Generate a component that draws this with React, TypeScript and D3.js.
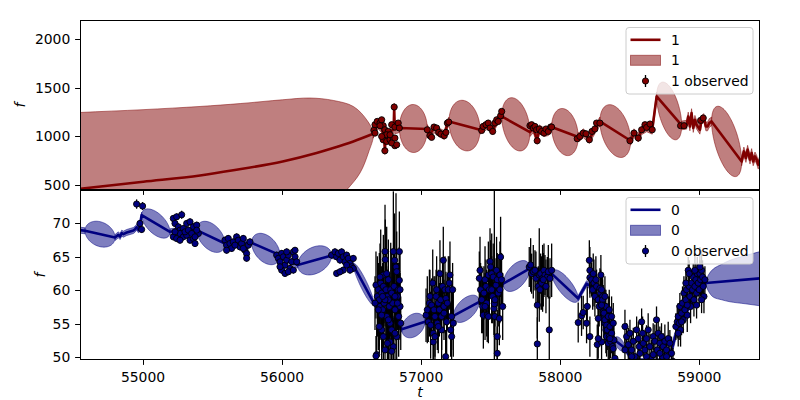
import React from 'react';
import * as d3 from 'd3';

// ---------- axes ----------
const tDomain = [54547, 59436];
const xTicks = [55000, 56000, 57000, 58000, 59000];
const topDomain = [445, 2195];
const topTicks = [500, 1000, 1500, 2000];
const botDomain = [49.6, 75];
const botTicks = [50, 55, 60, 65, 70];

// ---------- series "1" (top) ----------
const topMeanT = [54549, 55002, 55410, 55649, 56004, 56248, 56368, 56512, 56656,
  56668, 56690, 56716, 56733, 56739, 56745, 56770, 56790, 56802, 56806, 56810, 56830, 56843,
  57044, 57063, 57092, 57126, 57166, 57188, 57200,
  57423, 57446, 57482, 57514, 57543, 57579,
  57782, 57806, 57834, 57849, 57883, 57914, 57938,
  58129, 58141, 58165, 58209, 58249, 58285,
  58506, 58530, 58561, 58585, 58621, 58661, 58693,
  58873, 58909, 58920, 58932, 58944, 58956, 58968, 58980, 59004, 59016, 59033, 59047, 59059, 59071, 59088,
  59304, 59320, 59335, 59347, 59364, 59376, 59387, 59400, 59412, 59423, 59436];
const topMeanF = [458, 530, 595, 648, 739, 826, 877, 945, 1024,
  1075, 1120, 1080, 1000, 855, 1000, 1010, 1060, 1070, 1295, 1070, 1075, 1083,
  1073, 1020, 1080, 1040, 1010, 1120, 1151,
  1065, 1090, 1120, 1060, 1150, 1202,
  1040, 1080, 960, 1070, 1040, 1050, 1093,
  990, 996, 1030, 970, 1070, 1151,
  952, 1030, 985, 1060, 1090, 1065, 1408,
  1110, 1117, 1202, 1099, 1237, 1083, 1168, 1117, 1065, 1168, 1186, 1099, 1099, 1134, 1151,
  739, 842, 774, 860, 757, 826, 739, 791, 757, 705, 757];
const topSmoothUntil = 56656; // mean before the first observations is a smooth curve
const topThinHW = 45;
const topThinFrom = 56656;
const topThinTo = 1e9;
const topGapT0 = [56843, 57200, 57579, 57938, 58285, 58693, 59088];
const topGapT1 = [57044, 57423, 57782, 58129, 58506, 58873, 59304];
const topGapHW = [247, 257, 262, 237, 253, 257, 298];
// outline of the wide band before the first observations (upper edge left->right, lower edge back)
const topBlobT = [54200, 54549, 55000, 55410, 55700, 56004, 56200, 56368, 56512, 56608, 56656, 56620, 56560, 56464, 56300, 56000, 55000, 54200];
const topBlobF = [1215, 1243, 1272, 1305, 1335, 1374, 1392, 1367, 1305, 1168, 1024, 826, 620, 445, 200, -100, -250, -360];
const topObsT = [56660, 56668, 56684, 56704, 56716, 56727, 56668, 56739, 56763, 56788, 56811, 56835, 56843, 56727, 56752, 56776, 56799, 56811, 56788, 56739, 56806, 56704, 56752, 56776, 56716, 56824, 56811,
  57044, 57063, 57075, 57092, 57111, 57126, 57142, 57166, 57178, 57188, 57198,
  57435, 57446, 57466, 57482, 57495, 57514, 57530, 57543, 57554, 57571, 57579,
  57782, 57794, 57806, 57818, 57830, 57834, 57849, 57866, 57883, 57897, 57914, 57931, 57938,
  58122, 58141, 58165, 58185, 58209, 58228, 58249, 58261, 58285,
  58501, 58530, 58561, 58585, 58609, 58621, 58645, 58661,
  58865, 58890, 59009, 59028];
const topObsF = [1060, 1117, 1151, 1134, 1168, 1107, 1031, 1065, 1048, 1117, 1093, 1134, 1083, 962, 945, 962, 980, 901, 929, 849, 1299, 1107, 1014, 1014, 996, 911, 980,
  1065, 1004, 987, 1093, 1083, 1038, 1021, 1004, 1038, 1134, 1145,
  1058, 1099, 1117, 1134, 1083, 1048, 1134, 1168, 1151, 1209, 1254,
  1107, 1117, 1083, 1099, 1065, 952, 1073, 1048, 1031, 1073, 1048, 1093, 1093,
  973, 996, 1031, 1024, 962, 1048, 1073, 1134, 1134,
  952, 1031, 980, 1065, 1117, 1089, 1124, 1065,
  1107, 1107, 1161, 1186];
const topObsErr = 20;

// ---------- series "0" (bottom) ----------
const botMeanT = [54547, 54583,
  54799, 54823, 54835, 54847, 54859, 54883, 54907, 54931, 54943, 54955, 54967, 54978, 54990,
  55194, 55250, 55300, 55386,
  55589, 55680, 55781,
  55985, 56050, 56112,
  56356, 56430, 56512,
  56661, 56700, 56760, 56810, 56860,
  57027, 57100, 57160, 57231,
  57418, 57500, 57590,
  57782, 57860, 57938,
  58129, 58189, 58230, 58300, 58390,
  58465, 58490, 58550, 58700, 58790,
  58838, 58900, 58980, 59047, 59436];
const botMeanF = [69.0, 68.9,
  67.9, 68.3, 68.05, 68.55, 68.4, 68.65, 68.8, 68.95, 69.15, 69.45, 69.05, 69.8, 71.24,
  68.75, 68.9, 68.6, 69.0,
  67.0, 67.1, 67.1,
  65.27, 64.5, 63.78,
  65.2, 64.9, 63.78,
  58.06, 57.5, 56.5, 55.5, 54.2,
  55.3, 55.8, 56.0, 56.2,
  58.3, 59.8, 61.0,
  63.3, 62.8, 62.5,
  58.8, 61.0, 60.5, 57.0, 52.6,
  51.4, 50.5, 49.4, 49.3, 50.3,
  54.0, 56.5, 59.5, 61.1, 61.8];
const botSmoothUntil = 0;
const botThinHW = 0.45;
const botThinFrom = -1e9;
const botThinTo = 59047;
const botGapT0 = [54583, 54990, 55386, 55781, 56112, 56512, 56860, 57231, 57590, 57938, 58390, 58790];
const botGapT1 = [54799, 55194, 55589, 55985, 56356, 56661, 57027, 57418, 57782, 58129, 58465, 58838];
const botGapHW = [1.87, 1.8, 2.1, 2.16, 2.06, 1.2, 1.75, 1.75, 2.0, 1.6, 0.9, 0.8];
// outline of the widening band after the last observations
const botBlobT = [59047, 59065, 59100, 59160, 59220, 59330, 59436, 59540, 59540, 59436, 59330, 59220, 59160, 59100, 59065];
const botBlobF = [61.1, 62.3, 63.2, 63.9, 64.5, 65.2, 65.8, 66.3, 57.3, 57.7, 58.0, 58.3, 58.6, 59.0, 59.9];

// observed points: [t, f, error]
const botObs: [number, number, number][] = [
  [54954, 72.9, 0.7], [54997, 72.6, 0.6], [54978, 70.0, 0.5], [54990, 69.1, 0.5],
  [55218, 70.75, 0.5], [55242, 71.0, 0.5], [55230, 70.0, 0.5], [55278, 71.3, 0.6], [55254, 69.5, 0.5], [55266, 69.0, 0.5], [55290, 69.25, 0.5], [55314, 70.0, 0.5], [55338, 70.25, 0.5], [55362, 69.5, 0.5], [55386, 69.75, 0.5], [55218, 68.0, 0.5], [55242, 67.75, 0.5], [55266, 68.5, 0.5], [55290, 68.0, 0.5], [55314, 68.25, 0.5], [55338, 67.5, 0.5], [55362, 67.75, 0.5], [55374, 67.0, 0.5], [55398, 68.5, 0.5], [55386, 69.0, 0.5], [55266, 67.5, 0.5], [55302, 68.75, 0.5], [55326, 69.0, 0.5], [55350, 68.5, 0.5], [55230, 68.75, 0.5], [55374, 68.0, 0.5],
  [55589, 67.5, 0.5], [55601, 66.76, 0.5], [55613, 67.76, 0.5], [55625, 67.0, 0.5], [55637, 66.27, 0.5], [55649, 67.25, 0.5], [55673, 68.0, 0.5], [55685, 67.5, 0.5], [55697, 66.5, 0.5], [55709, 67.0, 0.5], [55721, 67.76, 0.5], [55733, 66.0, 0.5], [55745, 65.5, 0.5], [55757, 66.76, 0.5], [55769, 67.25, 0.5], [55745, 64.8, 0.5], [55721, 66.27, 0.5], [55601, 66.0, 0.5], [55661, 66.76, 0.5],
  [55961, 65.27, 0.5], [55973, 64.78, 0.5], [55985, 64.27, 0.5], [55997, 65.53, 0.5], [56009, 65.02, 0.5], [56021, 63.78, 0.5], [56033, 64.53, 0.5], [56045, 65.27, 0.5], [56057, 63.29, 0.5], [56069, 64.27, 0.5], [56081, 65.76, 0.5], [56093, 65.02, 0.5], [56105, 64.27, 0.5], [55997, 63.03, 0.5], [56021, 62.54, 0.5], [56045, 62.78, 0.5], [56081, 63.03, 0.5], [56093, 66.0, 0.5], [56033, 65.76, 0.5], [55985, 63.53, 0.5],
  [56356, 65.27, 0.5], [56380, 65.76, 0.5], [56392, 65.02, 0.5], [56404, 65.53, 0.5], [56416, 64.53, 0.5], [56428, 65.76, 0.5], [56440, 65.02, 0.5], [56452, 64.27, 0.5], [56464, 65.27, 0.5], [56476, 64.78, 0.5], [56488, 64.03, 0.5], [56500, 63.53, 0.5], [56512, 64.78, 0.5], [56512, 63.29, 0.5], [56440, 63.03, 0.5], [56392, 62.54, 0.5], [56416, 62.78, 0.5], [56464, 63.78, 0.5], [56488, 63.03, 0.5],
  [56675, 60.8, 5], [56685, 59.1, 6], [56692, 60.1, 4], [56699, 58.6, 7], [56704, 57.6, 5], [56709, 61.1, 8], [56716, 59.6, 4], [56723, 57.1, 6], [56728, 60.6, 5], [56733, 58.1, 3], [56740, 65.8, 7], [56742, 64.6, 6], [56747, 60.1, 9], [56752, 56.1, 5], [56757, 59.1, 4], [56764, 61.6, 6], [56771, 57.6, 5], [56776, 55.1, 4], [56781, 60.1, 7], [56788, 54.1, 5], [56795, 58.1, 6], [56800, 65.8, 9], [56805, 60.6, 5], [56809, 64.5, 7], [56812, 57.1, 4], [56819, 63.5, 11], [56824, 62.8, 6], [56829, 59.1, 5], [56836, 60.1, 4], [56843, 65.8, 6], [56848, 57.6, 5], [56853, 55.1, 4], [56843, 61.5, 5], [56838, 56.1, 6], [56824, 53.1, 5], [56800, 51.6, 4], [56776, 52.3, 5], [56757, 52.1, 4], [56728, 53.1, 5], [56716, 54.1, 6], [56699, 54.6, 4], [56680, 50.4, 4], [56740, 51.1, 5], [56788, 50.9, 4], [56812, 53.6, 5], [56764, 55.6, 6], [56716, 56.3, 5], [56692, 57.1, 6], [56668, 58.1, 4], [56728, 62.3, 6], [56752, 62.5, 7], [56704, 62.0, 5], [56788, 59.6, 6], [56812, 59.1, 5], [56829, 58.1, 4], [56848, 60.1, 6], [56764, 58.6, 5], [56740, 58.6, 4], [56723, 59.1, 5], [56675, 50.2, 3],
  [57035, 56.3, 4], [57044, 57.1, 5], [57051, 55.3, 3], [57059, 58.1, 5], [57063, 59.1, 4], [57068, 54.8, 5], [57075, 57.8, 4], [57083, 61.1, 5], [57087, 53.6, 4], [57092, 57.1, 5], [57099, 56.1, 6], [57107, 59.1, 4], [57111, 60.1, 5], [57116, 55.1, 4], [57123, 58.1, 5], [57131, 57.1, 4], [57135, 62.5, 5], [57140, 58.6, 4], [57147, 56.1, 5], [57154, 60.6, 4], [57159, 64.5, 5], [57164, 57.6, 4], [57171, 60.1, 5], [57178, 58.8, 4], [57183, 55.3, 5], [57188, 58.1, 4], [57195, 60.1, 5], [57202, 61.1, 4], [57207, 62.3, 5], [57212, 54.1, 4], [57219, 56.1, 5], [57226, 60.1, 4], [57231, 55.1, 5], [57219, 53.1, 4], [57164, 56.6, 4], [57147, 54.1, 5], [57123, 54.6, 4], [57087, 52.3, 4], [57176, 50.1, 4], [57099, 53.1, 5],
  [57418, 61.8, 4], [57423, 63.0, 5], [57427, 60.1, 4], [57435, 58.6, 5], [57442, 57.6, 4], [57447, 56.3, 5], [57451, 59.6, 4], [57459, 61.6, 5], [57466, 60.6, 4], [57471, 58.1, 5], [57475, 56.3, 4], [57483, 62.3, 5], [57490, 60.1, 4], [57495, 64.3, 5], [57499, 63.5, 4], [57507, 62.5, 6], [57514, 59.1, 4], [57518, 62.0, 5], [57523, 57.3, 4], [57526, 58.0, 20], [57530, 56.1, 5], [57538, 60.8, 4], [57542, 63.0, 5], [57547, 61.6, 4], [57554, 59.6, 5], [57562, 55.8, 4], [57566, 62.3, 5], [57571, 65.0, 6], [57578, 61.6, 4], [57586, 57.6, 5], [57547, 53.1, 4], [57547, 50.6, 4], [57507, 60.1, 5], [57483, 56.1, 4], [57459, 57.6, 5], [57530, 58.6, 4], [57566, 60.1, 5],
  [57777, 63.5, 3], [57787, 63.8, 4], [57794, 62.5, 3], [57806, 62.8, 4], [57818, 63.0, 3], [57825, 61.8, 4], [57835, 57.8, 5], [57842, 60.6, 3], [57849, 62.3, 7], [57859, 62.5, 3], [57866, 61.1, 4], [57873, 61.8, 5], [57883, 63.0, 4], [57890, 62.3, 3], [57897, 60.6, 4], [57907, 62.0, 3], [57914, 62.8, 4], [57921, 54.1, 5], [57926, 61.8, 3], [57938, 63.0, 4], [57835, 52.0, 4], [57854, 60.1, 3], [57878, 61.6, 4],
  [58129, 55.2, 3], [58153, 56.2, 3], [58165, 56.7, 2.5], [58209, 64.5, 3], [58213, 63.0, 3.5], [58213, 61.9, 3], [58225, 61.6, 2.5], [58233, 60.1, 3], [58242, 61.1, 3.5], [58249, 59.1, 3], [58261, 60.6, 2.5], [58273, 58.6, 3], [58280, 57.6, 3], [58290, 59.6, 3.5], [58297, 58.1, 3], [58309, 56.8, 2.5], [58314, 55.8, 3], [58321, 55.1, 3], [58328, 54.1, 3.5], [58333, 53.1, 3], [58345, 52.1, 2.5], [58352, 56.1, 3], [58213, 53.1, 3], [58266, 51.9, 3], [58273, 55.8, 3], [58256, 61.6, 3.5], [58285, 60.3, 3], [58304, 59.1, 3], [58321, 57.6, 2.5], [58338, 54.6, 3], [58237, 62.5, 3], [58189, 55.1, 3], [58194, 57.6, 3], [58292, 62.3, 3], [58297, 60.1, 2.5], [58304, 58.6, 3], [58309, 57.8, 3], [58314, 56.6, 3.5], [58321, 55.6, 3], [58328, 57.6, 2.5], [58333, 54.8, 3], [58338, 54.1, 3], [58345, 56.1, 3], [58352, 53.1, 3.5], [58357, 54.6, 3], [58362, 52.4, 2.5], [58369, 53.6, 3], [58376, 51.6, 3], [58381, 55.1, 3], [58386, 52.6, 3], [58297, 57.8, 3], [58321, 59.1, 3], [58352, 57.1, 3], [58369, 56.1, 3], [58357, 52.8, 3], [58381, 51.3, 3], [58393, 49.85, 3], [58297, 52.3, 3], [58273, 52.8, 3],
  [58465, 54.6, 2.5], [58477, 53.1, 2], [58489, 51.9, 2.5], [58501, 53.6, 2], [58513, 51.1, 2.5], [58525, 52.4, 2], [58537, 50.1, 2.5], [58549, 54.1, 2], [58561, 52.8, 2.5], [58568, 51.6, 2], [58573, 50.6, 2.5], [58585, 55.3, 2], [58592, 53.6, 2.5], [58597, 52.1, 2], [58608, 51.1, 2.5], [58620, 52.8, 2], [58632, 54.1, 2.5], [58644, 51.6, 2], [58656, 50.1, 2.5], [58668, 53.1, 2], [58680, 52.4, 2.5], [58692, 55.6, 2], [58697, 51.1, 2.5], [58704, 53.6, 2], [58716, 52.1, 2.5], [58728, 53.1, 2], [58735, 50.1, 2.5], [58740, 51.6, 2], [58752, 52.4, 2.5], [58764, 51.1, 2], [58776, 52.8, 2.5], [58788, 52.1, 2], [58800, 50.6, 2.5], [58465, 51.1, 2], [58513, 50.1, 2], [58620, 50.1, 2], [58668, 50.4, 2], [58716, 50.6, 2], [58764, 50.1, 2],
  [58500, 49.3, 2], [58560, 49.2, 2], [58630, 49.3, 2], [58690, 49.2, 2], [58750, 49.3, 2], [58810, 49.4, 2],
  [58831, 54.6, 2], [58841, 55.3, 2.5], [58848, 56.1, 2], [58855, 55.1, 2.5], [58860, 57.6, 2], [58865, 54.1, 2.5], [58872, 56.6, 2], [58879, 58.1, 2.5], [58884, 55.6, 2], [58889, 59.6, 2.5], [58896, 57.1, 2], [58903, 58.6, 2.5], [58908, 60.1, 2], [58913, 56.3, 2.5], [58920, 63.0, 2], [58927, 60.6, 2.5], [58932, 59.1, 2], [58937, 57.6, 2.5], [58944, 61.1, 2], [58951, 60.1, 2.5], [58956, 62.0, 2], [58961, 58.6, 2.5], [58968, 60.6, 2], [58975, 61.6, 2.5], [58980, 59.6, 2], [58985, 62.5, 2.5], [58992, 61.1, 2], [58999, 60.1, 2.5], [59004, 62.5, 2], [59009, 61.6, 2.5], [59016, 63.0, 3], [59023, 62.0, 2.5], [59028, 60.6, 2], [59033, 59.1, 2.5], [59040, 61.6, 2], [58927, 62.5, 2], [58968, 63.0, 2.5], [59004, 63.5, 3], [59016, 58.6, 2], [58903, 61.1, 2], [58872, 55.3, 2], [58848, 53.6, 2], [58913, 57.8, 2], [58980, 57.8, 2],
];

const FONT = 'DejaVu Sans, sans-serif';
const FS = 13.9;

function meanAt(T: number[], F: number[], t: number) {
  const i = d3.bisectRight(T, t);
  if (i <= 0) return F[0];
  if (i >= T.length) return F[F.length - 1];
  const t0 = T[i - 1], t1 = T[i];
  return t1 === t0 ? F[i] : F[i - 1] + ((F[i] - F[i - 1]) * (t - t0)) / (t1 - t0);
}

type PanelProps = {
  id: string;
  x: d3.ScaleLinear<number, number>;
  y: d3.ScaleLinear<number, number>;
  meanT: number[]; meanF: number[]; smoothUntil: number; thin: number; thinFrom: number; thinTo: number;
  g0: number[]; g1: number[]; ghw: number[];
  blobT: number[]; blobF: number[];
  obs: [number, number, number][];
  color: string;
};

function Panel(p: PanelProps) {
  const { x, y } = p;
  const [x0, x1] = x.range();
  const [yb, yt] = y.range();
  const T = p.meanT, F = p.meanF;
  const idx = d3.range(T.length);
  const smoothIdx = idx.filter(i => T[i] <= p.smoothUntil);
  const restIdx = idx.filter(i => T[i] >= p.smoothUntil);
  const smoothLine = smoothIdx.length > 1
    ? d3.line<number>().curve(d3.curveMonotoneX).x(i => x(T[i])).y(i => y(F[i]))(smoothIdx) || '' : '';
  const restLine = d3.line<number>().x(i => x(T[i])).y(i => y(F[i]))(restIdx) || '';
  // thin band only where the mean runs through data (not in gaps / wide outer bands)
  const runs: number[][] = [];
  let cur: number[] = [];
  for (let i = 0; i < T.length; i++) {
    cur.push(i);
    if (i < T.length - 1) {
      const isGap = p.g0.some((g, k) => g === T[i] && p.g1[k] === T[i + 1]);
      const outside = T[i + 1] <= p.thinFrom || T[i] >= p.thinTo;
      if (isGap || outside) { runs.push(cur); cur = []; }
    }
  }
  runs.push(cur);
  const areaGen = d3.area<number>().x(i => x(T[i])).y0(i => y(F[i] - p.thin)).y1(i => y(F[i] + p.thin));
  const thinPaths = runs.filter(r => r.length > 1).map(r => areaGen(r) || '');
  const blob = d3.line<number>().curve(d3.curveCatmullRomClosed).x(i => x(p.blobT[i])).y(i => y(p.blobF[i]))(d3.range(p.blobT.length)) || '';
  const ellipses = p.g0.map((t0, k) => {
    const t1 = p.g1[k];
    const m0 = meanAt(T, F, t0);
    const m1 = meanAt(T, F, t1);
    const tc = (t0 + t1) / 2, a = (t1 - t0) / 2;
    const pts: [number, number][] = d3.range(0, 72).map(j => {
      const th = (2 * Math.PI * j) / 72;
      const tt = tc + a * Math.cos(th);
      const m = m0 + ((m1 - m0) * (tt - t0)) / (t1 - t0);
      return [x(tt), y(m + p.ghw[k] * Math.sin(th))];
    });
    return (d3.line()(pts) || '') + 'Z';
  });
  const bandStyle = { fill: p.color, fillOpacity: 0.5, stroke: p.color, strokeOpacity: 0.5, strokeWidth: 1 };
  return (
    <g>
      <defs>
        <clipPath id={p.id}>
          <rect x={x0} y={yt} width={x1 - x0} height={yb - yt} />
        </clipPath>
      </defs>
      <g clipPath={`url(#${p.id})`}>
        {p.blobT.length > 0 && <path d={blob} {...bandStyle} />}
        {ellipses.map((d, k) => <path key={k} d={d} {...bandStyle} />)}
        {thinPaths.map((d, k) => <path key={'t' + k} d={d} {...bandStyle} />)}
        {smoothLine && <path d={smoothLine} fill="none" stroke={p.color} strokeWidth={2.6} strokeLinejoin="round" />}
        <path d={restLine} fill="none" stroke={p.color} strokeWidth={2.6} strokeLinejoin="round" />
        {p.obs.map(([t, f, e], k) => (
          <line key={'e' + k} x1={x(t)} x2={x(t)} y1={y(f - e)} y2={y(f + e)} stroke="#000" strokeWidth={1.3} />
        ))}
        {p.obs.map(([t, f], k) => (
          <circle key={'c' + k} cx={x(t)} cy={y(f)} r={3.1} fill={p.color} stroke="#000" strokeWidth={0.9} />
        ))}
      </g>
    </g>
  );
}

function Axes({ x, y, ticks, showX }: { x: d3.ScaleLinear<number, number>; y: d3.ScaleLinear<number, number>; ticks: number[]; showX: boolean }) {
  const [x0, x1] = x.range();
  const [yb, yt] = y.range();
  return (
    <g fontFamily={FONT} fontSize={FS} fill="#000">
      {ticks.map(v => (
        <g key={v}>
          <line x1={x0 - 4.9} x2={x0} y1={Math.round(y(v)) + 0.5} y2={Math.round(y(v)) + 0.5} stroke="#000" strokeWidth={1} />
          <text x={x0 - 9.7} y={y(v) + 5} textAnchor="end">{v}</text>
        </g>
      ))}
      {xTicks.map(v => (
        <g key={v}>
          <line x1={Math.round(x(v)) + 0.5} x2={Math.round(x(v)) + 0.5} y1={yb} y2={yb + 4.9} stroke="#000" strokeWidth={1} />
          {showX && <text x={x(v)} y={yb + 21.5} textAnchor="middle">{v}</text>}
        </g>
      ))}
      <rect x={x0 + 0.5} y={yt + 0.5} width={x1 - x0 - 1} height={yb - yt - 1} fill="none" stroke="#000" strokeWidth={1} />
    </g>
  );
}

function Legend({ x0, y0, color, label }: { x0: number; y0: number; color: string; label: string }) {
  const rows = [y0 + 12.3, y0 + 32.8, y0 + 53.5];
  return (
    <g fontFamily={FONT} fontSize={FS}>
      <rect x={x0} y={y0} width={127} height={66.5} rx={3} fill="#fff" fillOpacity={0.8} stroke="#cccccc" strokeWidth={1} />
      <line x1={x0 + 4.5} x2={x0 + 34.5} y1={rows[0]} y2={rows[0]} stroke={color} strokeWidth={2.6} />
      <text x={x0 + 45} y={rows[0] + 5}>{label}</text>
      <rect x={x0 + 4.5} y={rows[1] - 5} width={30} height={10} fill={color} fillOpacity={0.5} stroke={color} strokeOpacity={0.5} strokeWidth={1} />
      <text x={x0 + 45} y={rows[1] + 5}>{label}</text>
      <line x1={x0 + 19.5} x2={x0 + 19.5} y1={rows[2] - 6} y2={rows[2] + 6} stroke="#000" strokeWidth={1.3} />
      <circle cx={x0 + 19.5} cy={rows[2]} r={3.1} fill={color} stroke="#000" strokeWidth={0.9} />
      <text x={x0 + 45} y={rows[2] + 5}>{label + ' observed'}</text>
    </g>
  );
}

export default function App() {
  const x = d3.scaleLinear().domain(tDomain).range([80, 760]);
  const yT = d3.scaleLinear().domain(topDomain).range([190, 20]);
  const yB = d3.scaleLinear().domain(botDomain).range([360, 190]);
  const topObs: [number, number, number][] = topObsT.map((t, i) => [t, topObsF[i], topObsErr]);
  return (
    <svg width={800} height={400} style={{ position: 'absolute', left: 0, top: 0, background: '#fff' }}>
      <rect width={800} height={400} fill="#fff" />
      <Panel id="clipTop" x={x} y={yT} meanT={topMeanT} meanF={topMeanF} smoothUntil={topSmoothUntil} thin={topThinHW} thinFrom={topThinFrom} thinTo={topThinTo}
        g0={topGapT0} g1={topGapT1} ghw={topGapHW} blobT={topBlobT} blobF={topBlobF}
        obs={topObs} color="#800000" />
      <Axes x={x} y={yT} ticks={topTicks} showX={false} />
      <Legend x0={626} y0={27.5} color="#800000" label="1" />
      <Panel id="clipBot" x={x} y={yB} meanT={botMeanT} meanF={botMeanF} smoothUntil={botSmoothUntil} thin={botThinHW} thinFrom={botThinFrom} thinTo={botThinTo}
        g0={botGapT0} g1={botGapT1} ghw={botGapHW} blobT={botBlobT} blobF={botBlobF}
        obs={botObs} color="#000080" />
      <Axes x={x} y={yB} ticks={botTicks} showX={true} />
      <Legend x0={626} y0={197.5} color="#000080" label="0" />
      <text x={25} y={105} transform="rotate(-90 25 105)" textAnchor="middle" fontFamily={FONT} fontSize={FS} fontStyle="italic">f</text>
      <text x={45} y={275} transform="rotate(-90 45 275)" textAnchor="middle" fontFamily={FONT} fontSize={FS} fontStyle="italic">f</text>
      <text x={420} y={397} textAnchor="middle" fontFamily={FONT} fontSize={FS} fontStyle="italic">t</text>
    </svg>
  );
}
